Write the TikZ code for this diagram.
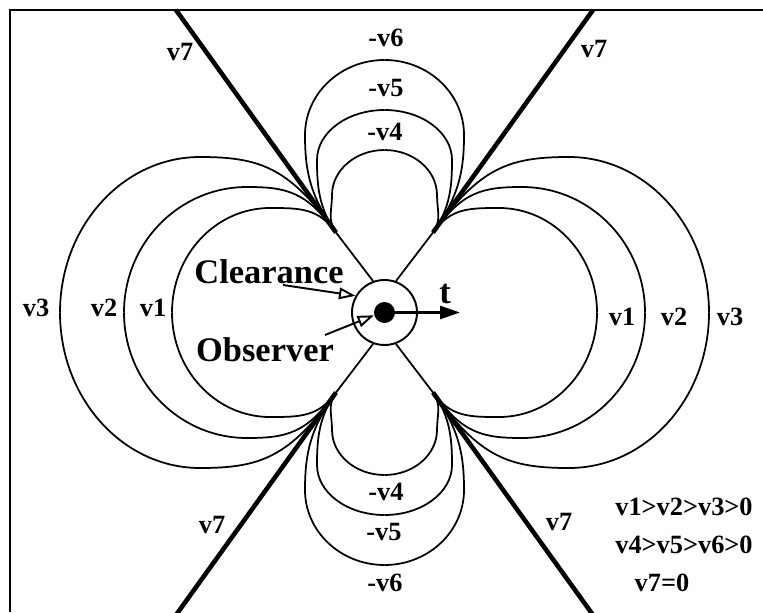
\documentclass[tikz,border=0pt]{standalone}
\usepackage{fontspec}
\setmainfont{Liberation Serif}
\usetikzlibrary{arrows.meta}

\begin{document}
\begin{tikzpicture}[x=0.02cm, y=-0.02cm,
  curve/.style={line width=1pt},
  zeroline/.style={line width=2.6pt},
  lbl/.style={font=\fontsize{15}{18}\selectfont\bfseries, inner sep=0pt},
  big/.style={font=\fontsize{19.6}{23}\selectfont\bfseries, inner sep=0pt},
  openarr/.style={-{Triangle[length=3.3mm, width=2.3mm, fill=white]}, line width=1.1pt},
  tarr/.style={-{Triangle[length=4mm, width=2.6mm]}, line width=1.6pt}
]
\useasboundingbox (0,0) rectangle (763,612);
\clip (0,0) rectangle (763,612);
\draw[line width=1.4pt] (10,612) -- (10,10) -- (763,10);
% Clearance and observer
\node[circle, draw, line width=1.1pt, minimum size=1.3cm, inner sep=0pt] (clr) at (384.5,312.5) {};
\node[circle, fill, minimum size=0.42cm, inner sep=0pt] (obsdot) at (384.5,312.5) {};
% one quarter of every contour, mirrored round the observer
\foreach \sx/\sy/\q in {1/1/ul, -1/1/ur, 1/-1/ll, -1/-1/lr} {
  \begin{scope}[shift={(384.5,312.5)}, xscale=\sx, yscale=\sy]
    \coordinate (\q) at (-48.5,-80);
    \draw[zeroline] (\q) -- (-208.5,-302.5);
    % v1, v2, v3
    \draw[curve] (\q) .. controls (-66,-104.4) and (-84.5,-104.5) .. (-114.5,-104.5) .. controls (-168.6,-104.5) and (-212.5,-57.7) .. (-212.5,0);
    \draw[curve] (\q) .. controls (-77.7,-120.6) and (-97.5,-125.5) .. (-137.5,-125.5) .. controls (-205.4,-125.5) and (-260.5,-69.3) .. (-260.5,0);
    \draw[curve] (\q) .. controls (-95.2,-145) and (-124.5,-155.5) .. (-184.5,-155.5) .. controls (-261.8,-155.5) and (-324.5,-85.8) .. (-324.5,0);
    % -v4, -v5, -v6
    \draw[curve] (\q) .. controls (-57.3,-92.2) and (-52.5,-102.5) .. (-52.5,-117.5) .. controls (-52.5,-142.3) and (-29,-162.5) .. (0,-162.5);
    \draw[curve] (\q) .. controls (-66,-104.4) and (-67.5,-127.5) .. (-67.5,-152.5) .. controls (-67.5,-180.1) and (-37.3,-202.5) .. (0,-202.5);
    \draw[curve] (\q) .. controls (-74.8,-116.5) and (-79.5,-142.5) .. (-79.5,-177.5) .. controls (-79.5,-218.9) and (-43.9,-252.5) .. (0,-252.5);
  \end{scope}
}
\draw[curve] (ul) -- (clr.110);
\draw[curve] (ur) -- (clr.70);
\draw[curve] (ll) -- (clr.250);
\draw[curve] (lr) -- (clr.290);
% Labels
\node[lbl] (v3l) at (36,308) {v3};
\node[lbl] (v2l) at (104,308) {v2};
\node[lbl] (v1l) at (153,308) {v1};
\node[lbl] (v1r) at (622,317) {v1};
\node[lbl] (v2r) at (674,317) {v2};
\node[lbl] (v3r) at (730,317) {v3};
\node[lbl] (v6t) at (386,38) {-v6};
\node[lbl] (v5t) at (386,88) {-v5};
\node[lbl] (v4t) at (385,132) {-v4};
\node[lbl] (v4b) at (386,492) {-v4};
\node[lbl] (v5b) at (384,532) {-v5};
\node[lbl] (v6b) at (385,583) {-v6};
\node[lbl] (v7ul) at (180,52) {v7};
\node[lbl] (v7ur) at (594,49) {v7};
\node[lbl] (v7ll) at (212,525) {v7};
\node[lbl] (v7lr) at (559,522) {v7};
\node[lbl] (cond1) at (684,507) {v1>v2>v3>0};
\node[lbl] (cond2) at (684,545) {v4>v5>v6>0};
\node[lbl] (cond3) at (662,583) {v7=0};
\node[big] (clearance) at (269,272) {Clearance};
\node[big] (observer) at (265,350) {Observer};
\node[big] (tlbl) at (445,294) {t};
% Arrows
\coordinate (cltail) at (283,285);
\coordinate (obtail) at (325,335);
\coordinate (ttip) at (460,312.5);
\draw[openarr] (cltail) -- (clr.150);
\draw[openarr] (obtail) -- (obsdot.195);
\draw[tarr] (obsdot.center) -- (ttip);
\end{tikzpicture}
\end{document}
